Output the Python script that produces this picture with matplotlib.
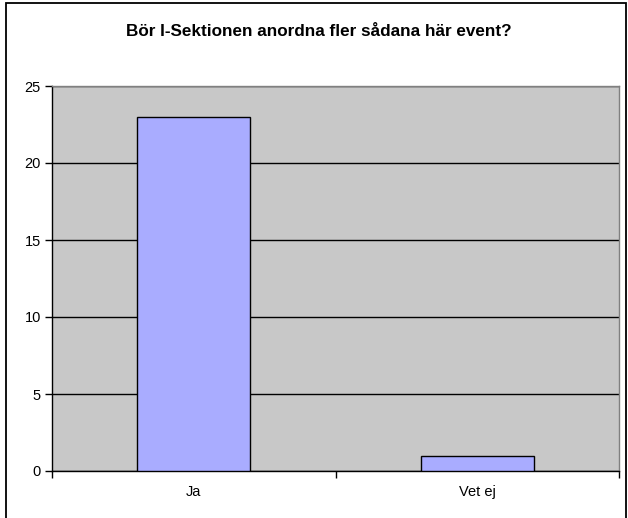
import matplotlib
matplotlib.use("Agg")
import matplotlib.pyplot as plt
import matplotlib.patches as mpatches

# --- données ---
categories = ["Ja", "Vet ej"]
values = [23, 1]
y_ticks = [0, 5, 10, 15, 20, 25]

plt.rcParams['font.family'] = ['Liberation Sans', 'DejaVu Sans']

W, H = 628, 518
fig = plt.figure(figsize=(W / 100, H / 100), dpi=100)
fig.patch.set_facecolor('white')

# cadre extérieur (coupé en bas comme dans l'original)
fig.patches.append(mpatches.Rectangle((6 / W, -0.05), (626 - 6) / W, 0.05 + 1 - 3 / H,
                                      transform=fig.transFigure, fill=False,
                                      edgecolor='black', linewidth=1.3, clip_on=False))

left, right, top, bottom = 52, 619, 86, 471
ax = fig.add_axes([left / W, 1 - bottom / H, (right - left) / W, (bottom - top) / H])
ax.set_facecolor('#c8c8c8')

x = range(len(categories))
ax.bar(x, values, width=0.4, color='#a9acff', edgecolor='black', linewidth=1, zorder=3)

ax.set_xlim(-0.5, len(categories) - 0.5)
ax.set_ylim(0, 25)
ax.set_yticks(y_ticks)
ax.set_yticklabels([str(t) for t in y_ticks], fontsize=10.5)
ax.yaxis.grid(True, color='black', linewidth=1)
ax.set_axisbelow(True)

# ticks catégoriels entre les barres
ax.set_xticks([-0.5, 0.5, 1.5])
ax.set_xticklabels([])
ax.set_xticks(list(x), minor=True)
ax.set_xticklabels(categories, minor=True, fontsize=10.5)
ax.tick_params(axis='x', which='minor', length=0, pad=10)
ax.tick_params(axis='x', which='major', direction='out', length=5, width=1)
ax.tick_params(axis='y', direction='out', length=5, width=1, pad=3)

for s in ['left', 'bottom']:
    ax.spines[s].set_color('black')
    ax.spines[s].set_linewidth(1)
for s in ['top', 'right']:
    ax.spines[s].set_color('#808080')
    ax.spines[s].set_linewidth(1)

fig.text(319 / W, 1 - 32 / H, "Bör I-Sektionen anordna fler sådana här event?",
         ha='center', va='center', fontsize=12.3, fontweight='bold')

fig.savefig("out.png", dpi=100)
